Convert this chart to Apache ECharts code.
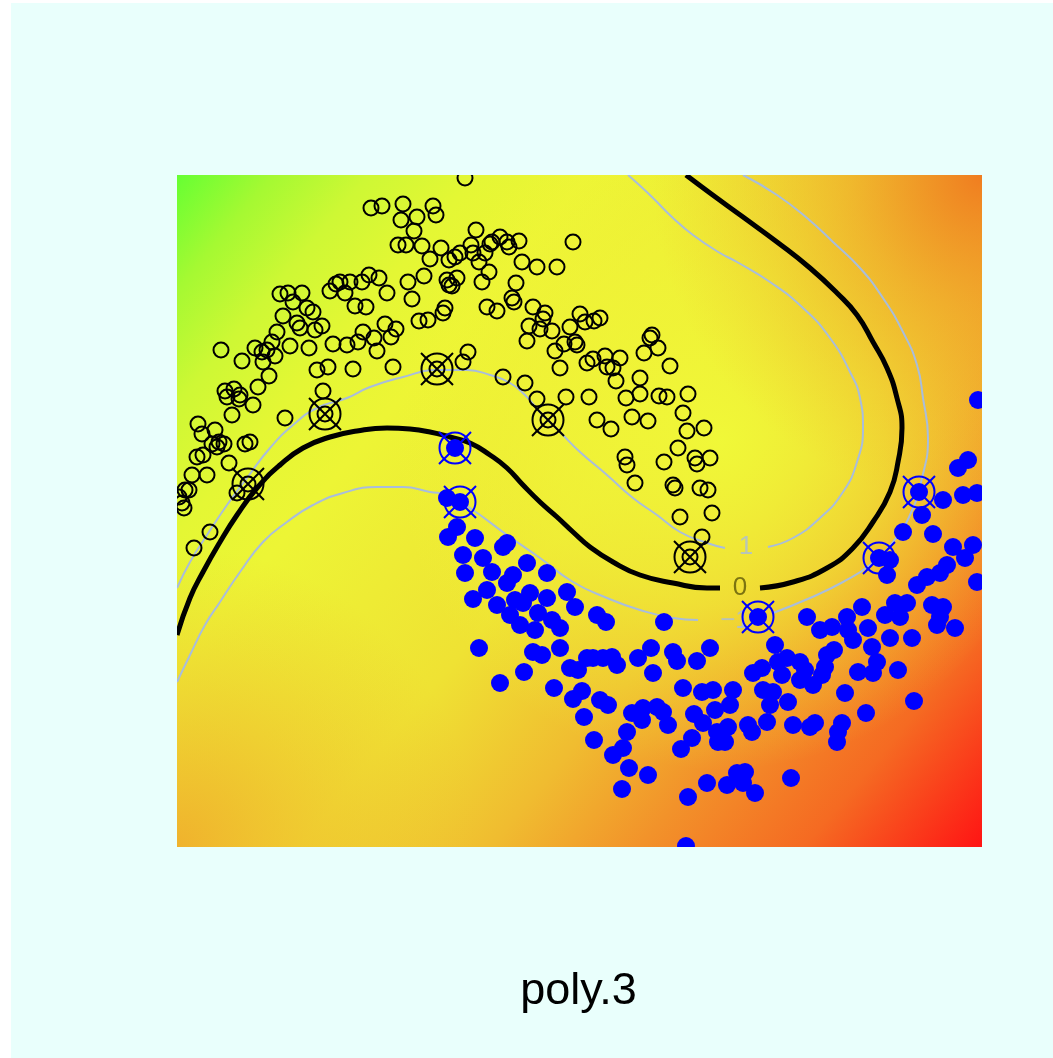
<!DOCTYPE html>
<html>
<head>
<meta charset="utf-8">
<title>poly.3</title>
<style>
  html, body { margin: 0; padding: 0; background: #fff; }
</style>
</head>
<body>
<div id="main" style="width:1053px;height:1058px;"></div>
<script src="https://cdn.jsdelivr.net/npm/echarts/dist/echarts.min.js"></script>
<script>
// plot units: x 0..805, y 0..672
var classA = [ // open black circles
  [194,639],[205,641],[226,643],[256,641],[259,632],[224,627],[240,630],[237,616],[221,602],[229,602],
  [245,601],[264,599],[253,588],[272,587],[231,565],[247,571],[235,548],[270,567],[272,562],[242,526],
  [251,527],[268,539],[266,534],[103,553],[111,554],[125,554],[116,545],[130,539],[136,535],[106,531],
  [120,524],[123,519],[145,521],[138,517],[100,515],[95,505],[113,501],[132,499],[78,499],[85,495],
  [90,497],[98,491],[86,485],[44,497],[65,486],[92,471],[81,460],[48,456],[57,458],[63,452],
  [140,477],[151,480],[176,478],[216,480],[146,456],[153,556],[159,563],[163,565],[168,554],[173,565],
  [185,565],[192,572],[202,569],[210,554],[178,541],[189,540],[156,503],[170,502],[181,505],[186,515],
  [197,509],[200,496],[208,523],[214,510],[219,518],
  [288,669],[299,617],[294,602],[315,605],[323,610],[330,605],[332,600],[342,606],[313,603],[396,605],
  [278,590],[283,594],[296,594],[302,585],[308,594],[345,585],[360,580],[380,580],[312,575],[305,565],
  [280,569],[275,561],[339,564],[335,549],[337,545],[310,540],[320,536],[356,540],[368,534],[366,528],
  [352,521],[363,518],[375,516],[350,506],[393,520],[403,533],[408,525],[417,526],[423,529],[387,503],
  [398,505],[400,502],[378,496],[383,479],[410,484],[416,488],[428,491],[430,480],[436,479],[443,489],
  [439,466],[463,469],[475,512],[473,509],[467,494],[481,499],[493,481],[291,495],[286,485],[326,470],
  [348,464],[360,448],[389,450],[412,450],[449,449],[463,453],[482,451],[490,450],[511,453],
  [420,427],[434,418],[455,430],[471,426],[506,434],[510,416],[527,419],[501,399],[448,390],[450,382],
  [487,385],[518,389],[520,383],[533,389],[458,364],[496,362],[498,359],[523,359],[531,357],[503,330],
  [535,334],[525,310],
  [21,423],[38,417],[25,413],[35,403],[42,405],[40,400],[47,403],[55,432],[73,405],[68,403],
  [76,442],[62,448],[50,450],[108,429],[20,390],[26,392],[52,384],[15,372],[30,372],[8,357],
  [12,357],[5,344],[7,339],[2,350],[60,354],[33,315],[17,299]
];
var classB = [ // filled blue points
  [270,349],[280,320],[271,310],[298,309],[286,292],[306,289],[288,274],[330,304],[326,300],[315,275],
  [336,272],[330,264],[350,284],[370,274],[296,248],[310,257],[320,242],[338,247],[346,244],[353,254],
  [370,249],[390,255],[398,240],[333,232],[343,222],[361,234],[375,227],[383,219],[420,232],[429,225],
  [487,225],[358,217],[302,199],[356,195],[365,192],[383,199],[393,179],[401,177],[410,189],[416,189],
  [426,189],[435,190],[440,182],[461,189],[474,199],[476,174],[496,195],[500,186],[520,186],[533,199],
  [323,164],[347,175],[377,159],[396,148],[405,156],[407,130],[423,147],[431,142],[417,107],[455,134],
  [466,139],[480,140],[486,135],[465,127],[450,115],[491,122],[446,99],[436,92],[452,79],[471,72],
  [445,58],[506,159],[525,155],[536,157],[538,137],[517,133],[526,124],[515,109],[504,98],[540,115],
  [541,105],[530,64],[511,50],[509,1],
  [598,202],[643,217],[655,220],[671,217],[676,207],[691,219],[713,209],[735,209],[760,222],[778,219],
  [576,174],[585,179],[601,185],[610,189],[605,172],[623,185],[628,177],[623,167],[636,162],[645,172],
  [648,180],[650,192],[657,197],[681,175],[696,174],[695,200],[700,185],[721,177],[556,157],[586,157],
  [596,155],[593,142],[611,145],[668,154],[689,134],[737,146],[553,142],[551,120],[548,105],[571,122],
  [575,115],[590,125],[616,122],[633,120],[638,124],[665,124],[661,115],[660,105],[550,62],[560,74],
  [568,75],[566,64],[578,54],[614,69],
  [801,447],[781,379],[791,387],[766,347],[786,352],[800,354],[745,332],[726,315],[756,313],[776,300],
  [796,302],[788,289],[770,282],[750,270],[740,262],[800,265],[763,274],[713,287],[710,272],[685,240],
  [670,230],[630,230],[708,232],[718,244],[730,244],[723,230],[755,242],[766,240],[763,230]
];
var supportA = [[71,363],[148,433],[260,478],[371,427],[513,290]];
var supportB = [[278,399],[283,345],[581,230],[702,289],[742,355]];

// contour f = 0 (two pieces, gap for the label)
var level0a = [[0,212],[13,249],[26,275],[43,305],[60,332],[80,359],[103,382],[126,399],[153,410],[180,416],
  [210,419],[233,418],[253,415],[273,410],[293,404],[313,392],[330,379],[346,362],[363,345],[380,330],
  [396,315],[413,300],[436,285],[463,272],[496,264],[530,259],[543,259]];
var level0b = [[583,259],[616,265],[650,279],[676,299],[696,325],[713,355],[721,385],[725,419],[720,449],
  [710,479],[696,505],[680,532],[660,554],[633,579],[600,605],[566,630],[533,654],[509,672]];
// contour f = 1
var level1a = [[0,259],[13,285],[30,312],[50,342],[70,369],[93,399],[116,422],[140,439],[170,449],[193,460],
  [226,470],[260,477],[290,477],[313,472],[333,464],[348,452],[363,435],[383,415],[403,395],[430,372],
  [456,349],[480,332],[503,315],[530,304],[548,299]];
var level1b = [[591,300],[616,309],[643,329],[666,355],[680,385],[686,419],[683,449],[673,475],[653,509],
  [626,539],[593,565],[560,585],[543,594],[516,612],[496,629],[476,649],[460,664],[451,672]];
// contour f = -1
var levelMa = [[0,165],[13,192],[28,222],[43,245],[63,275],[86,305],[110,325],[136,342],[166,354],[200,360],
  [226,360],[253,355],[270,352],[293,339],[330,312],[363,289],[396,265],[430,249],[463,237],[496,229],[521,227]];
var levelMb = [[596,234],[633,249],[666,265],[693,282],[716,305],[733,332],[745,369],[751,409],[746,449],
  [740,482],[726,515],[706,549],[683,579],[656,605],[630,629],[600,652],[566,672]];

var contourLabels = [
  { value: [563,259], text: '0', color: 'rgba(70,66,0,0.85)' },
  { value: [569,300], text: '1', color: '#a9bddb' },
  { value: [558,226], text: '\u22121', color: '#a9bddb' }
];

var plotL = 177, plotT = 175, plotW = 805, plotH = 672;
var bgCyan = '#e9fffc';
var levelColor = '#a9bddb';

var myChart = echarts.init(document.getElementById('main'));

function contour(data, color, width) {
  return {
    type: 'line', data: data, smooth: 0.5, symbol: 'none', silent: true, z: 3,
    lineStyle: { color: color, width: width }
  };
}

myChart.setOption({
  backgroundColor: '#ffffff',
  animation: false,
  grid: { left: plotL, top: plotT, width: plotW, height: plotH },
  xAxis: { type: 'value', min: 0, max: 805, show: false },
  yAxis: { type: 'value', min: 0, max: 672, show: false },
  graphic: [
    { type: 'rect', z: -10, shape: { x: 11, y: 3, width: 1042, height: 1055 }, style: { fill: bgCyan } },
    // decision value shading
    { type: 'rect', z: 0, shape: { x: plotL, y: plotT, width: plotW, height: plotH },
      style: { fill: { type: 'linear', x: 0, y: 0, x2: 1, y2: 1, colorStops: [
        { offset: 0, color: '#66ff33' }, { offset: 0.07, color: '#a5f932' },
        { offset: 0.14, color: '#cef834' }, { offset: 0.22, color: '#e4f734' },
        { offset: 0.3, color: '#edf535' }, { offset: 0.5, color: '#efe233' },
        { offset: 0.64, color: '#f0bc30' }, { offset: 0.75, color: '#f2922a' },
        { offset: 0.87, color: '#f56a22' }, { offset: 1, color: '#ff1414' } ] } } },
    { type: 'rect', z: 0, shape: { x: plotL, y: plotT, width: plotW, height: plotH },
      style: { fill: { type: 'radial', x: 720, y: 440, r: 330, global: true, colorStops: [
        { offset: 0, color: 'rgba(240,250,56,0.95)' }, { offset: 0.5, color: 'rgba(240,248,56,0.6)' },
        { offset: 1, color: 'rgba(240,245,56,0)' } ] } } },
    { type: 'rect', z: 0, shape: { x: plotL, y: plotT, width: plotW, height: plotH },
      style: { fill: { type: 'radial', x: 982, y: 175, r: 330, global: true, colorStops: [
        { offset: 0, color: 'rgba(240,125,32,1)' }, { offset: 0.4, color: 'rgba(240,155,40,0.6)' },
        { offset: 1, color: 'rgba(240,185,48,0)' } ] } } },
    { type: 'rect', z: 0, shape: { x: plotL, y: plotT, width: plotW, height: plotH },
      style: { fill: { type: 'radial', x: 177, y: 847, r: 300, global: true, colorStops: [
        { offset: 0, color: 'rgba(240,172,44,0.9)' }, { offset: 1, color: 'rgba(240,190,48,0)' } ] } } },
    // frame that clips marks at the plot edge
    { type: 'rect', z: 100, shape: { x: 11, y: 3, width: 1042, height: plotT - 3 }, style: { fill: bgCyan } },
    { type: 'rect', z: 100, shape: { x: 11, y: plotT + plotH, width: 1042, height: 1058 - plotT - plotH }, style: { fill: bgCyan } },
    { type: 'rect', z: 100, shape: { x: 11, y: plotT, width: plotL - 11, height: plotH }, style: { fill: bgCyan } },
    { type: 'rect', z: 100, shape: { x: plotL + plotW, y: plotT, width: 1053 - plotL - plotW, height: plotH }, style: { fill: bgCyan } },
    { type: 'text', z: 101, x: 578.5, y: 992,
      style: { text: 'poly.3', fill: '#000', font: "45px 'Liberation Sans', Arial, sans-serif",
               align: 'center', verticalAlign: 'middle' } }
  ],
  series: [
    contour(level0a, '#000', 5), contour(level0b, '#000', 5),
    contour(level1a, levelColor, 2), contour(level1b, levelColor, 2),
    contour(levelMa, levelColor, 2), contour(levelMb, levelColor, 2),
    {
      type: 'scatter', silent: true, z: 3, symbolSize: 0,
      data: contourLabels.map(function (d) {
        return { value: d.value, label: { formatter: d.text, color: d.color } };
      }),
      label: { show: true, position: 'inside', fontSize: 26, fontFamily: "'Liberation Sans', Arial, sans-serif" }
    },
    {
      type: 'scatter', silent: true, z: 4, symbol: 'circle', symbolSize: 15,
      data: classA.concat(supportA),
      itemStyle: { color: 'transparent', borderColor: '#000', borderWidth: 2, opacity: 1 }
    },
    {
      type: 'scatter', silent: true, z: 4, symbol: 'circle', symbolSize: 18,
      data: classB.concat(supportB),
      itemStyle: { color: '#0000ff', opacity: 1 }
    },
    {
      type: 'scatter', silent: true, z: 5, symbol: 'circle', symbolSize: 31, data: supportA,
      itemStyle: { color: 'transparent', borderColor: '#000', borderWidth: 2, opacity: 1 }
    },
    {
      type: 'scatter', silent: true, z: 5, symbol: 'path://M0,0L10,10M10,0L0,10', symbolSize: 32, data: supportA,
      itemStyle: { color: 'transparent', borderColor: '#000', borderWidth: 2, opacity: 1 }
    },
    {
      type: 'scatter', silent: true, z: 5, symbol: 'circle', symbolSize: 31, data: supportB,
      itemStyle: { color: 'transparent', borderColor: '#0000ff', borderWidth: 2, opacity: 1 }
    },
    {
      type: 'scatter', silent: true, z: 5, symbol: 'path://M0,0L10,10M10,0L0,10', symbolSize: 32, data: supportB,
      itemStyle: { color: 'transparent', borderColor: '#0000ff', borderWidth: 2, opacity: 1 }
    }
  ]
});
</script>
</body>
</html>
